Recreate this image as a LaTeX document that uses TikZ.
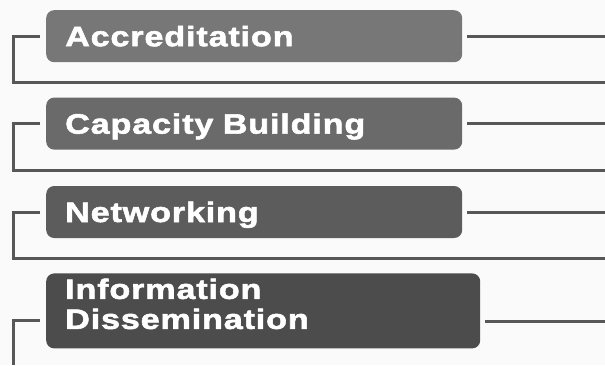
\documentclass[tikz,border=0pt]{standalone}
\usepackage{fontspec}
\newfontfamily\boxfont[FakeStretch=1.22,FakeBold=2,LetterSpace=3]{Liberation Sans}
\usetikzlibrary{positioning}
\definecolor{boxA}{HTML}{777777}
\definecolor{boxB}{HTML}{6A6A6A}
\definecolor{boxC}{HTML}{5C5C5C}
\definecolor{boxD}{HTML}{4C4C4C}
\definecolor{linegray}{HTML}{575757}

\begin{document}
\begin{tikzpicture}[x=1pt,y=-1pt,
    area/.style={rounded corners=8pt,text=white,inner xsep=19pt,inner ysep=0pt,
      align=left,text width=378pt,minimum height=52pt,text height=20pt,text depth=0pt,
      font=\boxfont\bfseries\fontsize{28}{30}\selectfont},
    link/.style={draw=linegray,line width=3pt}]
  \fill[white!98!black] (0,0) rectangle (605,365);
  \useasboundingbox (0,0) rectangle (605,365);

  \node[area,fill=boxA,anchor=north west] (acc) at (46,10) {Accreditation};
  \node[area,fill=boxB,below=35pt of acc.south west,anchor=north west] (cap) {Capacity Building};
  \node[area,fill=boxC,below=36pt of cap.south west,anchor=north west] (net) {Networking};
  \node[area,fill=boxD,below=35pt of net.south west,anchor=north west,
        text width=396pt,minimum height=75pt,text depth=44pt] (inf) {Information\\Dissemination};

  % ends of the lines at the edges
  \coordinate (edge) at (605,0);
  \coordinate (s1) at (605,82);
  \coordinate (s2) at (605,170);
  \coordinate (s3) at (605,258);
  \coordinate (s4) at (13,365);

  \draw[link] ([xshift=-6pt]acc.west) -- ++(-27,0) |- (s1);
  \draw[link] ([xshift=-6pt]cap.west) -- ++(-27,0) |- (s2);
  \draw[link] ([xshift=-6pt]net.west) -- ++(-27,0) |- (s3);
  \draw[link] ([xshift=-6pt,yshift=-10pt]inf.west) -- ++(-27,0) -- (s4);

  \draw[link] ([xshift=5pt]acc.east) -- (acc.east -| edge);
  \draw[link] ([xshift=5pt]cap.east) -- (cap.east -| edge);
  \draw[link] ([xshift=5pt]net.east) -- (net.east -| edge);
  \draw[link] ([xshift=5pt,yshift=-11pt]inf.east) -- ([yshift=-11pt]inf.east -| edge);
\end{tikzpicture}
\end{document}
